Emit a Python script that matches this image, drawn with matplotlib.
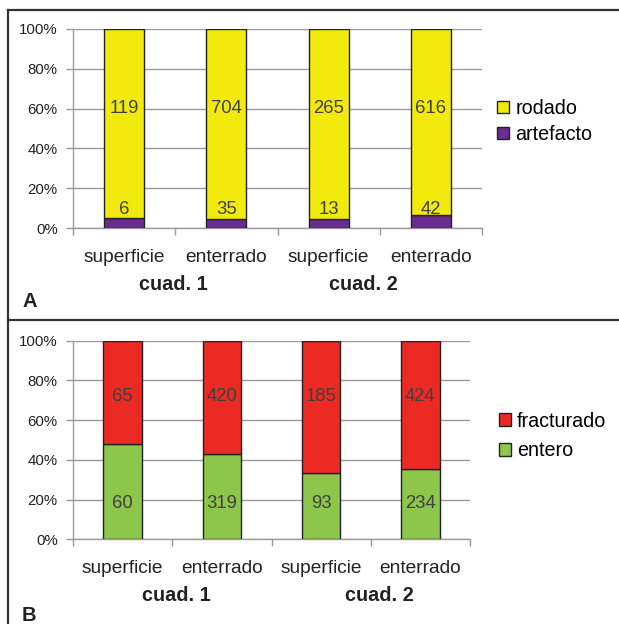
import numpy as np
import matplotlib
matplotlib.use("Agg")
import matplotlib.pyplot as plt
from matplotlib.lines import Line2D
from matplotlib.patches import Patch
import matplotlib.transforms as mtransforms

plt.rcParams["font.family"] = ["Liberation Sans", "DejaVu Sans"]

categories = ["superficie", "enterrado", "superficie", "enterrado"]
groups = ["cuad. 1", "cuad. 2"]

artefacto = np.array([6, 35, 13, 42])
rodado = np.array([119, 704, 265, 616])

entero = np.array([60, 319, 93, 234])
fracturado = np.array([65, 420, 185, 424])

W, H = 619, 624
fig = plt.figure(figsize=(W / 100, H / 100), dpi=100)

YELLOW = "#f2ea0c"
PURPLE = "#6a2d8f"
RED = "#ec2a24"
GREEN = "#8cc64a"
TXT = "#404040"
GRID = "#9a9a9a"


def px_axes(left, top, right, bottom):
    return fig.add_axes([left / W, 1 - bottom / H, (right - left) / W, (bottom - top) / H])


def draw_panel(ax, low, high, low_name, high_name, low_col, high_col,
               low_lab_y, high_lab_y, group_x):
    total = low + high
    low_pct = low / total * 100
    high_pct = high / total * 100
    x = np.arange(len(categories))
    ax.bar(x, low_pct, width=0.39, color=low_col, edgecolor="#222222",
           linewidth=1.0, zorder=3, label=low_name)
    ax.bar(x, high_pct, bottom=low_pct, width=0.39, color=high_col,
           edgecolor="#222222", linewidth=1.0, zorder=3, label=high_name)
    for i in range(len(x)):
        ax.text(x[i], high_lab_y, str(high[i]), ha="center", va="center",
                fontsize=13.3, color=TXT, zorder=4)
        ax.text(x[i], low_lab_y, str(low[i]), ha="center", va="center",
                fontsize=13.3, color=TXT, zorder=4)

    ax.set_xlim(-0.5, len(x) - 0.5)
    ax.set_ylim(0, 100)
    ax.set_yticks(np.arange(0, 101, 20))
    ax.set_yticklabels([f"{v}%" for v in range(0, 101, 20)], fontsize=10.8,
                       color="#222222")
    ax.yaxis.grid(True, color=GRID, linewidth=1.0, zorder=0)
    ax.set_xticks(np.arange(-0.5, len(x), 1.0))
    ax.set_xticklabels([])
    ax.set_xticks(x, minor=True)
    ax.set_xticklabels(categories, minor=True, fontsize=13.8, color="#222222")
    ax.tick_params(axis="x", which="minor", length=0, pad=15)
    ax.tick_params(axis="x", which="major", length=5, color=GRID, width=1.0)
    ax.tick_params(axis="y", length=5, color=GRID, width=1.0, pad=6)
    for s in ["top", "right"]:
        ax.spines[s].set_visible(False)
    for s in ["left", "bottom"]:
        ax.spines[s].set_color(GRID)
        ax.spines[s].set_linewidth(1.0)

    trans = mtransforms.blended_transform_factory(ax.transData, ax.transAxes)
    for gx, g in zip(group_x, groups):
        ax.text(gx, -0.285, g, transform=trans, ha="center", va="center",
                fontsize=14.3, fontweight="bold", color="#222222")
    return ax


axA = px_axes(73, 29, 482, 228)
draw_panel(axA, artefacto, rodado, "artefacto", "rodado", PURPLE, YELLOW,
           9.5, 60, [0.48, 2.34])
axA.legend(handles=[Patch(facecolor=YELLOW, edgecolor="#222222", label="rodado"),
                    Patch(facecolor=PURPLE, edgecolor="#222222", label="artefacto")],
           loc="center left", bbox_to_anchor=(497 / W, 1 - 121.5 / H),
           bbox_transform=fig.transFigure, frameon=False, fontsize=14.2,
           handlelength=0.62, handleheight=0.62, handletextpad=0.3,
           labelspacing=0.35, borderpad=0, borderaxespad=0)

axB = px_axes(73, 340.7, 470, 539.3)
draw_panel(axB, entero, fracturado, "entero", "fracturado", GREEN, RED,
           17.8, 72, [0.54, 2.59])
axB.legend(handles=[Patch(facecolor=RED, edgecolor="#222222", label="fracturado"),
                    Patch(facecolor=GREEN, edgecolor="#222222", label="entero")],
           loc="center left", bbox_to_anchor=(499 / W, 1 - 436 / H),
           bbox_transform=fig.transFigure, frameon=False, fontsize=14.2,
           handlelength=0.62, handleheight=0.62, handletextpad=0.3,
           labelspacing=0.55, borderpad=0, borderaxespad=0)

# panel frames
frame = dict(color="#333333", linewidth=1.6, transform=fig.transFigure)
fig.add_artist(Line2D([8 / W, 1], [1 - 9.5 / H, 1 - 9.5 / H], **frame))
fig.add_artist(Line2D([8 / W, 1], [1 - 320.5 / H, 1 - 320.5 / H], **frame))
fig.add_artist(Line2D([8 / W, 8 / W], [0, 1 - 9.5 / H], **frame))

fig.text(22 / W, 1 - 307 / H, "A", fontsize=14.5, fontweight="bold",
         color="#222222", va="baseline")
fig.text(22 / W, 1 - 621 / H, "B", fontsize=14.5, fontweight="bold",
         color="#222222", va="baseline")

fig.savefig("out.png", dpi=100)
